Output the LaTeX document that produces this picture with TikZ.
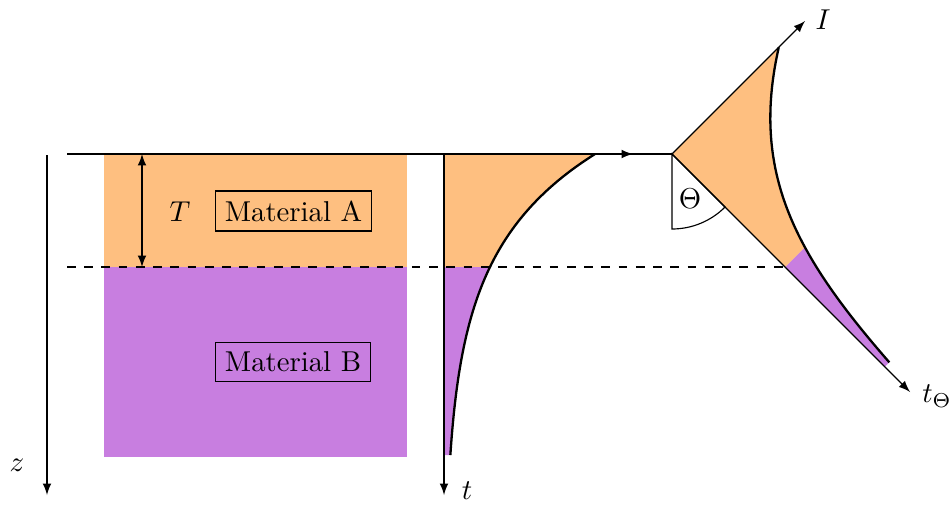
\documentclass[tikz,border=0pt]{standalone}
\definecolor{matA}{RGB}{254,191,128}
\definecolor{matB}{RGB}{200,126,224}
\begin{document}
\begin{tikzpicture}[x=0.348pt,y=-0.348pt,
  axis/.style={thin,-latex},
  curve/.style={thick},
  matbox/.style={draw,thin,fill=none,inner sep=3.33pt}]
\useasboundingbox (0,0) rectangle (949,504);
% material slabs
\fill[matA] (104,154) rectangle (407,267);
\fill[matB] (104,267) rectangle (407,457);
% t-plot fills
\fill[matA] (444,154) -- plot[domain=0:113,samples=60] ({444+151*exp(-\x/95)},{154+\x}) -- (444,267) -- cycle;
\fill[matB] (444,267) -- plot[domain=113:301,samples=60] ({444+151*exp(-\x/95)},{154+\x}) -- (444,455) -- cycle;
% rotated plot fills
\fill[matA] (672,154) -- plot[domain=0:160,samples=60] ({672+(\x+151*exp(-\x/95))*0.70711},{154+(\x-151*exp(-\x/95))*0.70711}) -- ({672+160*0.70711},{154+160*0.70711}) -- cycle;
\fill[matB] ({672+160*0.70711},{154+160*0.70711}) -- plot[domain=160:301,samples=60] ({672+(\x+151*exp(-\x/95))*0.70711},{154+(\x-151*exp(-\x/95))*0.70711}) -- ({672+301*0.70711},{154+301*0.70711}) -- cycle;
% angle sector
\draw[thin,fill=white] (672,154) -- (672,229) arc[start angle=90,end angle=45,radius=75] -- cycle;
% lines
\draw[thin] (67,154) -- (672,154);
\draw[thin,dashed] (67,267) -- ({672+160*0.70711},267);
% axes
\coordinate (zs) at (47,155);
\coordinate (ze) at (47,495);
\draw[axis] (zs) -- (ze);
\draw[thin,latex-latex] (142,154) -- (142,267);
\draw[axis] (444,154) -- (444,495);
\draw[axis] (444,154) -- (633,154);
\coordinate (O) at (672,154);
\draw[axis] (O) -- ++(133,-133);
\draw[axis] (O) -- ++(238,238);
% curves
\draw[curve] plot[domain=0:301,samples=100] ({444+151*exp(-\x/95)},{154+\x});
\draw[curve] plot[domain=0:301,samples=100] ({672+(\x+151*exp(-\x/95))*0.70711},{154+(\x-151*exp(-\x/95))*0.70711});
% labels
\node (lz) at (17,465) {$z$};
\node (lt) at (467,491) {$t$};
\node (lI) at (823,20) {$I$};
\node (ltt) at (937,396) {$t_\Theta$};
\node (lTh) at (690,199) {$\Theta$};
\node (lT) at (180,212) {$T$};
\node[matbox] (mA) at (293.5,211) {Material A};
\node[matbox] (mB) at (293,362) {Material B};
\end{tikzpicture}
\end{document}
